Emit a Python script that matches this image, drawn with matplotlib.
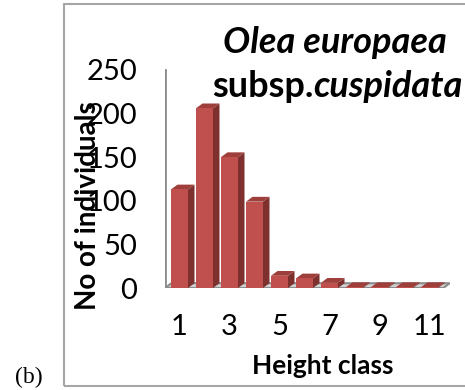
import matplotlib.pyplot as plt
from matplotlib.patches import Polygon, Rectangle

height_class = [1, 2, 3, 4, 5, 6, 7, 8, 9, 10, 11]
individuals = [113, 206, 150, 99, 14, 11, 6, 1, 1, 1, 1]
y_ticks = [0, 50, 100, 150, 200, 250]
x_ticks = [1, 3, 5, 7, 9, 11]

FRONT = "#C0504D"
SIDE = "#7E302E"
TOP = "#9E3F3C"
GRID = "#8C8C8C"

plt.rcParams["font.family"] = ["Lato", "DejaVu Sans"]

fig = plt.figure(figsize=(4.65, 3.9), dpi=100)
ax = fig.add_axes([0.3548, 0.2615, 0.613, 0.5615])

# fake 3D depth of each bar, in data units
dx, dy = 0.26, 5.5
bar_w = 0.68

# floor and back wall
ax.add_patch(Polygon([(0.42, 0), (11.55, 0), (11.55 + dx, dy), (0.42 + dx, dy)],
                     closed=True, facecolor="#D0D0D0", edgecolor=GRID, lw=1.5,
                     zorder=1))
ax.plot([0.42, 0.42], [0, 250], color=GRID, lw=2, zorder=1)

for x, v in zip(height_class, individuals):
    x0 = x - bar_w / 2
    x1 = x + bar_w / 2
    ax.add_patch(Polygon([(x1, 0), (x1 + dx, dy), (x1 + dx, v + dy), (x1, v)],
                         closed=True, facecolor=SIDE, edgecolor="none", zorder=2))
    ax.add_patch(Polygon([(x0, v), (x1, v), (x1 + dx, v + dy), (x0 + dx, v + dy)],
                         closed=True, facecolor=TOP, edgecolor="none", zorder=2))
ax.bar(height_class, individuals, width=bar_w, color=FRONT, zorder=3)

ax.set_xlim(0.42, 11.82)
ax.set_ylim(0, 251)
for side in ax.spines.values():
    side.set_visible(False)
ax.set_yticks(y_ticks)
ax.set_xticks(x_ticks)
ax.tick_params(axis="y", length=0, pad=20, labelsize=21)
ax.tick_params(axis="x", length=0, pad=19, labelsize=21)

fig.text(323 / 465, 1 - 366 / 390, "Height class", fontsize=19,
         fontweight="bold", ha="center", va="center")
fig.text(88 / 465, 1 - 206 / 390, "No of individuals", rotation=90,
         fontsize=20, fontweight="bold", ha="center", va="center")

fig.text(223 / 465, 1 - 53 / 390, "Olea europaea", fontsize=26,
         fontweight="bold", style="italic", ha="left", va="baseline")
sub = fig.text(212 / 465, 1 - 97 / 390, "subsp.", fontsize=26,
               fontweight="bold", ha="left", va="baseline")
fig.canvas.draw()
bb = sub.get_window_extent(renderer=fig.canvas.get_renderer())
fig.text(bb.x1 / fig.bbox.width, 1 - 97 / 390, "cuspidata", fontsize=26,
         fontweight="bold", style="italic", ha="left", va="baseline")

fig.text(29 / 465, 1 - 377 / 390, "(b)", fontsize=17, family="Liberation Serif",
         ha="center", va="center")

fig.add_artist(Rectangle((64 / 465, 4 / 390), 410 / 465, 382 / 390,
                         transform=fig.transFigure, fill=False,
                         edgecolor="#A6A6A6", lw=1.5))

fig.savefig("out.png", dpi=100)
